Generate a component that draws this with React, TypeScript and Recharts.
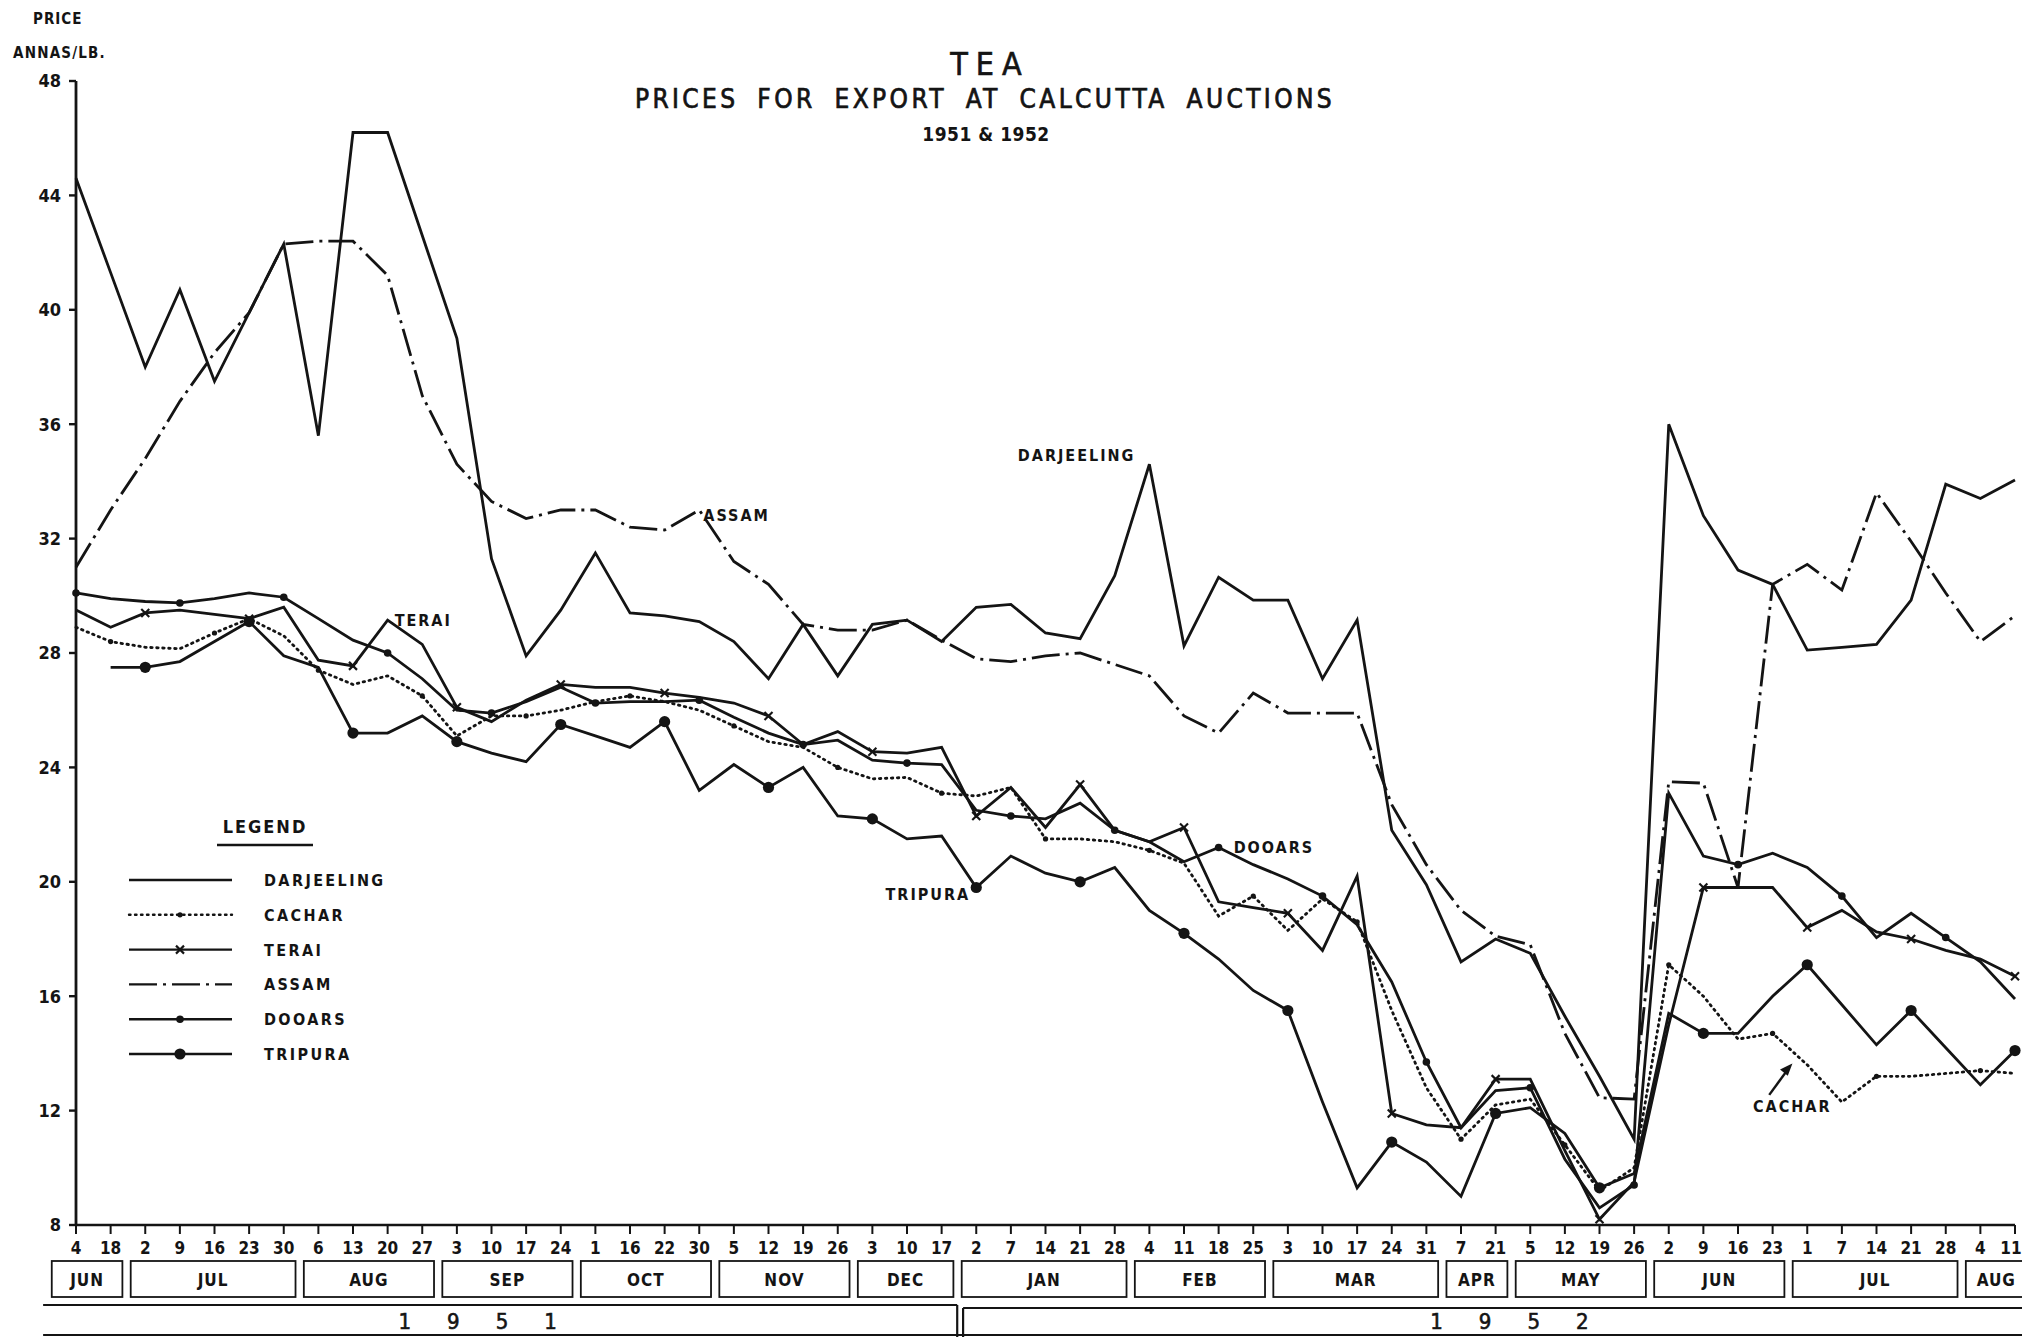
import React from 'react'
import { LineChart, Line, XAxis, YAxis, ReferenceDot } from 'recharts'

// x categories: auction dates, Jun 1951 .. Aug 1952
const tickLabels = ['4', '18', '2', '9', '16', '23', '30', '6', '13', '20', '27', '3', '10', '17', '24', '1', '16', '22', '30', '5', '12', '19', '26', '3', '10', '17',
  '2', '7', '14', '21', '28', '4', '11', '18', '25', '3', '10', '17', '24', '31', '7', '21', '5', '12', '19', '26', '2', '9', '16', '23', '1', '7', '14', '21', '28', '4', '11']
const monthNames = ['JUN', 'JUL', 'AUG', 'SEP', 'OCT', 'NOV', 'DEC', 'JAN', 'FEB', 'MAR', 'APR', 'MAY', 'JUN', 'JUL', 'AUG']
const monthSizes = [2, 5, 4, 4, 4, 4, 3, 5, 4, 5, 2, 4, 4, 5, 2]
const yearNames = ['1951', '1952']
const yTicks = [8, 12, 16, 20, 24, 28, 32, 36, 40, 44, 48]

// prices, annas per lb
const darjeeling = [44.6, 41.3, 38.0, 40.7, 37.5, 39.9, 42.3, 35.6, 46.2, 46.2, 42.6, 39.0, 31.3, 27.9, 29.5, 31.5, 29.4, 29.3, 29.1, 28.4, 27.1, 29.0, 27.2, 29.0, 29.15, 28.4,
  29.6, 29.7, 28.7, 28.5, 30.7, 34.6, 28.25, 30.65, 29.85, 29.85, 27.1, 29.15, 21.8, 19.9, 17.2, 18.0, 17.5, 15.3, 13.2, 11.0, 36.0, 32.8, 30.9, 30.4, 28.1, 28.2, 28.3, 29.85, 33.9, 33.4, 34.05]
const cachar = [28.9, 28.4, 28.2, 28.15, 28.7, 29.2, 28.6, 27.4, 26.9, 27.2, 26.5, 25.1, 25.8, 25.8, 26.0, 26.3, 26.5, 26.3, 26.0, 25.45, 24.9, 24.7, 24.0, 23.6, 23.65, 23.1,
  23.0, 23.3, 21.5, 21.5, 21.4, 21.1, 20.65, 18.8, 19.5, 18.3, 19.4, 18.6, 15.5, 12.8, 11.0, 12.2, 12.4, 10.8, 9.2, 10.0, 17.1, 16.0, 14.5, 14.7, 13.6, 12.3, 13.2, 13.2, 13.3, 13.4, 13.3]
const terai = [29.5, 28.9, 29.4, 29.5, 29.35, 29.2, 29.6, 27.75, 27.55, 29.15, 28.3, 26.1, 25.6, 26.35, 26.9, 26.8, 26.8, 26.6, 26.45, 26.25, 25.8, 24.8, 25.25, 24.55, 24.5, 24.7,
  22.3, 23.3, 21.9, 23.4, 21.8, 21.4, 21.9, 19.3, 19.1, 18.9, 17.6, 20.2, 11.9, 11.5, 11.4, 13.1, 13.1, 10.6, 8.2, 9.5, 15.0, 19.8, 19.8, 19.8, 18.4, 19.0, 18.25, 18.0, 17.6, 17.3, 16.7]
const assam = [31.0, 33.0, 34.8, 36.8, 38.5, 39.9, 42.3, 42.4, 42.4, 41.2, 37.0, 34.6, 33.3, 32.7, 33.0, 33.0, 32.4, 32.3, 33.0, 31.2, 30.4, 29.0, 28.8, 28.8, 29.15, 28.45,
  27.8, 27.7, 27.9, 28.0, 27.6, 27.2, 25.8, 25.2, 26.6, 25.9, 25.9, 25.9, 22.7, 20.6, 19.0, 18.1, 17.8, 14.7, 12.45, 12.4, 23.5, 23.45, 19.8, 30.4, 31.1, 30.2, 33.6, 31.9, 30.1, 28.4, 29.3]
const dooars = [30.1, 29.9, 29.8, 29.75, 29.9, 30.1, 29.95, 29.2, 28.45, 28.0, 27.1, 26.0, 25.9, 26.3, 26.8, 26.25, 26.3, 26.3, 26.35, 25.75, 25.2, 24.8, 24.95, 24.25, 24.15, 24.1,
  22.5, 22.3, 22.2, 22.75, 21.8, 21.4, 20.7, 21.2, 20.6, 20.1, 19.5, 18.5, 16.5, 13.7, 11.4, 12.7, 12.8, 10.3, 8.6, 9.4, 23.1, 20.9, 20.6, 21.0, 20.5, 19.5, 18.05, 18.9, 18.05, 17.2, 15.9]
const tripura = [null, 27.5, 27.5, 27.7, 28.4, 29.1, 27.9, 27.5, 25.2, 25.2, 25.8, 24.9, 24.5, 24.2, 25.5, 25.1, 24.7, 25.6, 23.2, 24.1, 23.3, 24.0, 22.3, 22.2, 21.5, 21.6,
  19.8, 20.9, 20.3, 20.0, 20.5, 19.0, 18.2, 17.3, 16.2, 15.5, 12.3, 9.3, 10.9, 10.2, 9.0, 11.9, 12.1, 11.2, 9.3, 9.8, 15.4, 14.7, 14.7, 16.0, 17.1, 15.7, 14.3, 15.5, 14.2, 12.9, 14.1]

const data = tickLabels.map((t, i) => ({
  i, t,
  darjeeling: darjeeling[i], cachar: cachar[i], terai: terai[i],
  assam: assam[i], dooars: dooars[i], tripura: tripura[i],
}))

const series = [
  { key: 'darjeeling', name: 'DARJEELING', dash: undefined, marker: 'none', every: 0, start: 0 },
  { key: 'cachar', name: 'CACHAR', dash: '1.5 4.5', marker: 'small', every: 3, start: 1 },
  { key: 'terai', name: 'TERAI', dash: undefined, marker: 'cross', every: 3, start: 2 },
  { key: 'assam', name: 'ASSAM', dash: '28 6 3 6', marker: 'none', every: 0, start: 0 },
  { key: 'dooars', name: 'DOOARS', dash: undefined, marker: 'dot', every: 3, start: 0 },
  { key: 'tripura', name: 'TRIPURA', dash: undefined, marker: 'big', every: 3, start: 2 },
]

const W = 2022
const H = 1337
const LEFT = 76
const RIGHT = 2015
const TOP = 81
const BOTTOM = 1225
const STEP = (RIGHT - LEFT) / (tickLabels.length - 1)
const INK = '#141414'
const FONT = "'DejaVu Sans Condensed', 'Liberation Sans Narrow', 'DejaVu Sans', sans-serif"

const monthStarts = monthSizes.map((_, k) => monthSizes.slice(0, k).reduce((a, b) => a + b, 0))

const marker = (kind: string, cx: number, cy: number, key: string) => {
  if (kind === 'small') return <circle key={key} cx={cx} cy={cy} r={2.6} fill={INK} />
  if (kind === 'dot') return <circle key={key} cx={cx} cy={cy} r={3.8} fill={INK} />
  if (kind === 'big') return <circle key={key} cx={cx} cy={cy} r={5.6} fill={INK} />
  if (kind === 'cross')
    return (
      <g key={key} stroke={INK} strokeWidth={2.2}>
        <line x1={cx - 4} y1={cy - 4} x2={cx + 4} y2={cy + 4} />
        <line x1={cx - 4} y1={cy + 4} x2={cx + 4} y2={cy - 4} />
      </g>
    )
  return <g key={key} />
}

const dotFor = (s: any) => (p: any) => {
  const key = `${s.key}-${p.index}`
  if (s.every === 0 || p.cy == null || p.value == null || p.index < s.start || (p.index - s.start) % s.every !== 0) return <g key={key} />
  return marker(s.marker, p.cx, p.cy, key)
}

const txt = { fontFamily: FONT, fontWeight: 700, fill: INK } as const

const XTick = (props: any) => {
  const { x, y, payload } = props
  const i = payload.value as number
  const m = monthStarts.indexOf(i)
  const at = (j: number) => x + (j - i) * STEP
  const last = i === tickLabels.length - 1
  const boxL = m === 0 ? at(i - 0.7) : at(i - 0.42)
  const boxW = (m === 0 ? monthSizes[m] - 1 + 1.04 : monthSizes[m] - 1 + 0.76) * STEP
  return (
    <g>
      <line x1={x} x2={x} y1={y} y2={y + 9} stroke={INK} strokeWidth={2} />
      <text x={last ? x - 4 : x} y={y + 29} textAnchor="middle" fontSize={17} {...txt}>{tickLabels[i]}</text>
      {m >= 0 && (
        <g>
          <rect x={boxL} y={y + 36} width={boxW} height={36} fill="none" stroke={INK} strokeWidth={1.8} />
          <text x={boxL + boxW / 2} y={y + 61} textAnchor="middle" fontSize={17} letterSpacing={1} {...txt}>{monthNames[m]}</text>
        </g>
      )}
      {i === 0 && (
        <g stroke={INK} strokeWidth={2.2}>
          <line x1={at(-0.95)} x2={at(25.45)} y1={y + 80} y2={y + 80} />
          <line x1={at(25.45)} x2={at(25.45)} y1={y + 80} y2={y + 112} />
          <line x1={at(25.62)} x2={W} y1={y + 83} y2={y + 83} />
          <line x1={at(25.62)} x2={at(25.62)} y1={y + 83} y2={y + 112} />
          <line x1={at(-0.95)} x2={W} y1={y + 110} y2={y + 110} />
          <text x={at(11.6) + 18} y={y + 104} textAnchor="middle" fontSize={22} fontWeight={400} letterSpacing={36} stroke={INK} strokeWidth={0.6} fontFamily={FONT} fill={INK}>{yearNames[0]}</text>
          <text x={at(41.4) + 18} y={y + 104} textAnchor="middle" fontSize={22} fontWeight={400} letterSpacing={36} stroke={INK} strokeWidth={0.6} fontFamily={FONT} fill={INK}>{yearNames[1]}</text>
        </g>
      )}
    </g>
  )
}

const LegendBox = () => (
  <svg width={330} height={275} style={{ position: 'absolute', left: 120, top: 800 }}>
    <text x={145} y={33} textAnchor="middle" fontSize={18} letterSpacing={2} {...txt}>LEGEND</text>
    <line x1={97} x2={193} y1={45} y2={45} stroke={INK} strokeWidth={2.5} />
    {series.map((s, k) => {
      const yy = 80 + k * 34.8
      return (
        <g key={s.key}>
          <line x1={9} x2={112} y1={yy} y2={yy} stroke={INK} strokeWidth={2.4} strokeDasharray={s.dash} strokeLinecap={s.dash === '1.5 4.5' ? 'round' : 'butt'} />
          {marker(s.marker, 60, yy, `lg-${s.key}`)}
          <text x={144} y={yy + 6} fontSize={16} letterSpacing={2.4} {...txt}>{s.name}</text>
        </g>
      )
    })}
  </svg>
)

const notes = [
  { text: 'DARJEELING', values: darjeeling, at: 31, dx: -14, dy: -3, anchor: 'end' },
  { text: 'ASSAM', values: assam, at: 18, dx: 4, dy: 11, anchor: 'start' },
  { text: 'TERAI', values: terai, at: 9, dx: 7, dy: 6, anchor: 'start' },
  { text: 'DOOARS', values: dooars, at: 33, dx: 15, dy: 6, anchor: 'start' },
  { text: 'TRIPURA', values: tripura, at: 26, dx: -6, dy: 12, anchor: 'end' },
  { text: 'CACHAR', values: cachar, at: 50, dx: -15, dy: 47, anchor: 'middle' },
]

export default function App() {
  return (
    <div style={{ position: 'absolute', left: 0, top: 0, width: W, height: H, background: '#fff' }}>
      <LineChart width={W} height={H} data={data} margin={{ top: TOP, right: W - RIGHT, bottom: 0, left: 16 }}>
        <XAxis dataKey="i" type="number" domain={[0, tickLabels.length - 1]} ticks={data.map((d) => d.i)} interval={0}
          height={H - BOTTOM} tickLine={false} tickSize={0} tickMargin={0} axisLine={{ stroke: INK, strokeWidth: 2.6 }} tick={<XTick />} />
        <YAxis type="number" domain={[8, 48]} ticks={yTicks} interval={0} width={LEFT - 16} tickSize={7} tickMargin={8}
          axisLine={{ stroke: INK, strokeWidth: 2.8 }} tickLine={{ stroke: INK, strokeWidth: 2.4 }}
          tick={{ fontSize: 18, fontFamily: FONT, fontWeight: 700, fill: INK }} />
        {series.map((s) => (
          <Line key={s.key} type="linear" dataKey={s.key} name={s.name} stroke={INK} strokeWidth={2.8}
            strokeDasharray={s.dash} strokeLinecap={s.dash === '1.5 4.5' ? 'round' : 'butt'} strokeLinejoin="miter"
            dot={dotFor(s)} activeDot={false} isAnimationActive={false} connectNulls={false} />
        ))}
        {notes.map((n) => (
          <ReferenceDot key={n.text} x={n.at} y={n.values[n.at] as number} r={0} ifOverflow="visible"
            shape={(p: any) => (
              <g>
                <text x={p.cx + n.dx} y={p.cy + n.dy} textAnchor={n.anchor as any} fontSize={16} letterSpacing={2} {...txt}>{n.text}</text>
                {n.text === 'CACHAR' && (
                  <g stroke={INK} strokeWidth={2.4}>
                    <line x1={p.cx - 38} y1={p.cy + 30} x2={p.cx - 19} y2={p.cy + 4} />
                    <path d={`M ${p.cx - 17} ${p.cy + 1} l -8 4 l 5 4 z`} fill={INK} />
                  </g>
                )}
              </g>
            )} />
        ))}
      </LineChart>
      <LegendBox />
      <svg width={W} height={160} style={{ position: 'absolute', left: 0, top: 0, pointerEvents: 'none' }}>
        <text x={33} y={24} fontSize={15} letterSpacing={1} {...txt}>PRICE</text>
        <text x={13} y={58} fontSize={15} letterSpacing={1.2} {...txt}>ANNAS/LB.</text>
        <text x={990} y={75} textAnchor="middle" fontSize={32} letterSpacing={8} stroke={INK} strokeWidth={0.6} fontFamily={FONT} fill={INK}>TEA</text>
        <text x={985} y={108} textAnchor="middle" fontSize={26} letterSpacing={3.4} wordSpacing={8} stroke={INK} strokeWidth={0.7} fontFamily={FONT} fill={INK}>PRICES FOR EXPORT AT CALCUTTA AUCTIONS</text>
        <text x={986} y={141} textAnchor="middle" fontSize={19} letterSpacing={0.5} {...txt}>1951 & 1952</text>
      </svg>
    </div>
  )
}
